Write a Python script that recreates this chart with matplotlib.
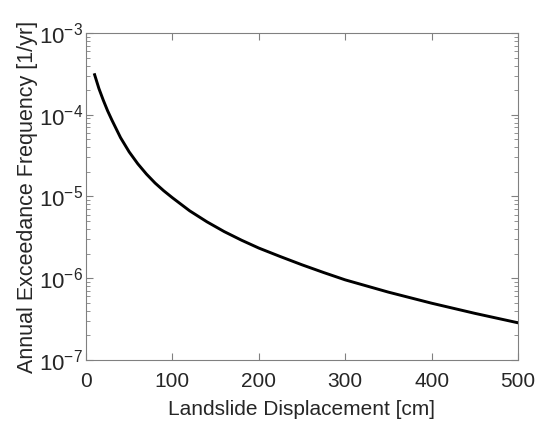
import matplotlib.pyplot as plt

plt.rcParams['font.family'] = ['Liberation Sans', 'DejaVu Sans']
plt.rcParams['mathtext.fontset'] = 'custom'
plt.rcParams['mathtext.rm'] = 'Liberation Sans'
plt.rcParams['mathtext.it'] = 'Liberation Sans'
plt.rcParams['mathtext.default'] = 'regular'

# landslide displacement [cm] and annual exceedance frequency [1/yr]
displacement = [10, 15, 20, 25, 30, 40, 50, 60, 70, 80, 90, 100, 120, 140,
                160, 180, 200, 225, 250, 275, 300, 350, 400, 450, 500]
frequency = [3.09e-4, 2.09e-4, 1.51e-4, 1.12e-4, 8.61e-5, 5.25e-5, 3.51e-5,
             2.51e-5, 1.88e-5, 1.46e-5, 1.175e-5, 9.66e-6, 6.68e-6, 4.90e-6,
             3.72e-6, 2.92e-6, 2.34e-6, 1.84e-6, 1.46e-6, 1.175e-6, 9.55e-7,
             6.76e-7, 4.95e-7, 3.72e-7, 2.85e-7]

fig = plt.figure(figsize=(5.49, 4.26), dpi=100)
ax = fig.add_axes([0.1566, 0.155, 0.7869, 0.7675])

ax.plot(displacement, frequency, color='black', lw=2.1)

ax.set_yscale('log')
ax.set_xlim(0, 500)
ax.set_ylim(1e-7, 1e-3)
ax.set_xticks([0, 100, 200, 300, 400, 500])

edge = '#262626'
for s in ax.spines.values():
    s.set_color('#808080')
    s.set_linewidth(0.8)
ax.tick_params(which='both', direction='in', top=True, right=True,
               colors='#808080', labelcolor=edge)
ax.tick_params(which='major', length=5)
ax.tick_params(which='minor', length=3)
ax.tick_params(axis='x', pad=9, labelsize=15)
ax.tick_params(axis='y', pad=2, labelsize=16)

ax.set_xlabel('Landslide Displacement [cm]', fontsize=15, color=edge, labelpad=6)
ax.set_ylabel('Annual Exceedance Frequency [1/yr]', fontsize=15.5, color=edge, labelpad=1)

fig.savefig('out.png', dpi=100)
